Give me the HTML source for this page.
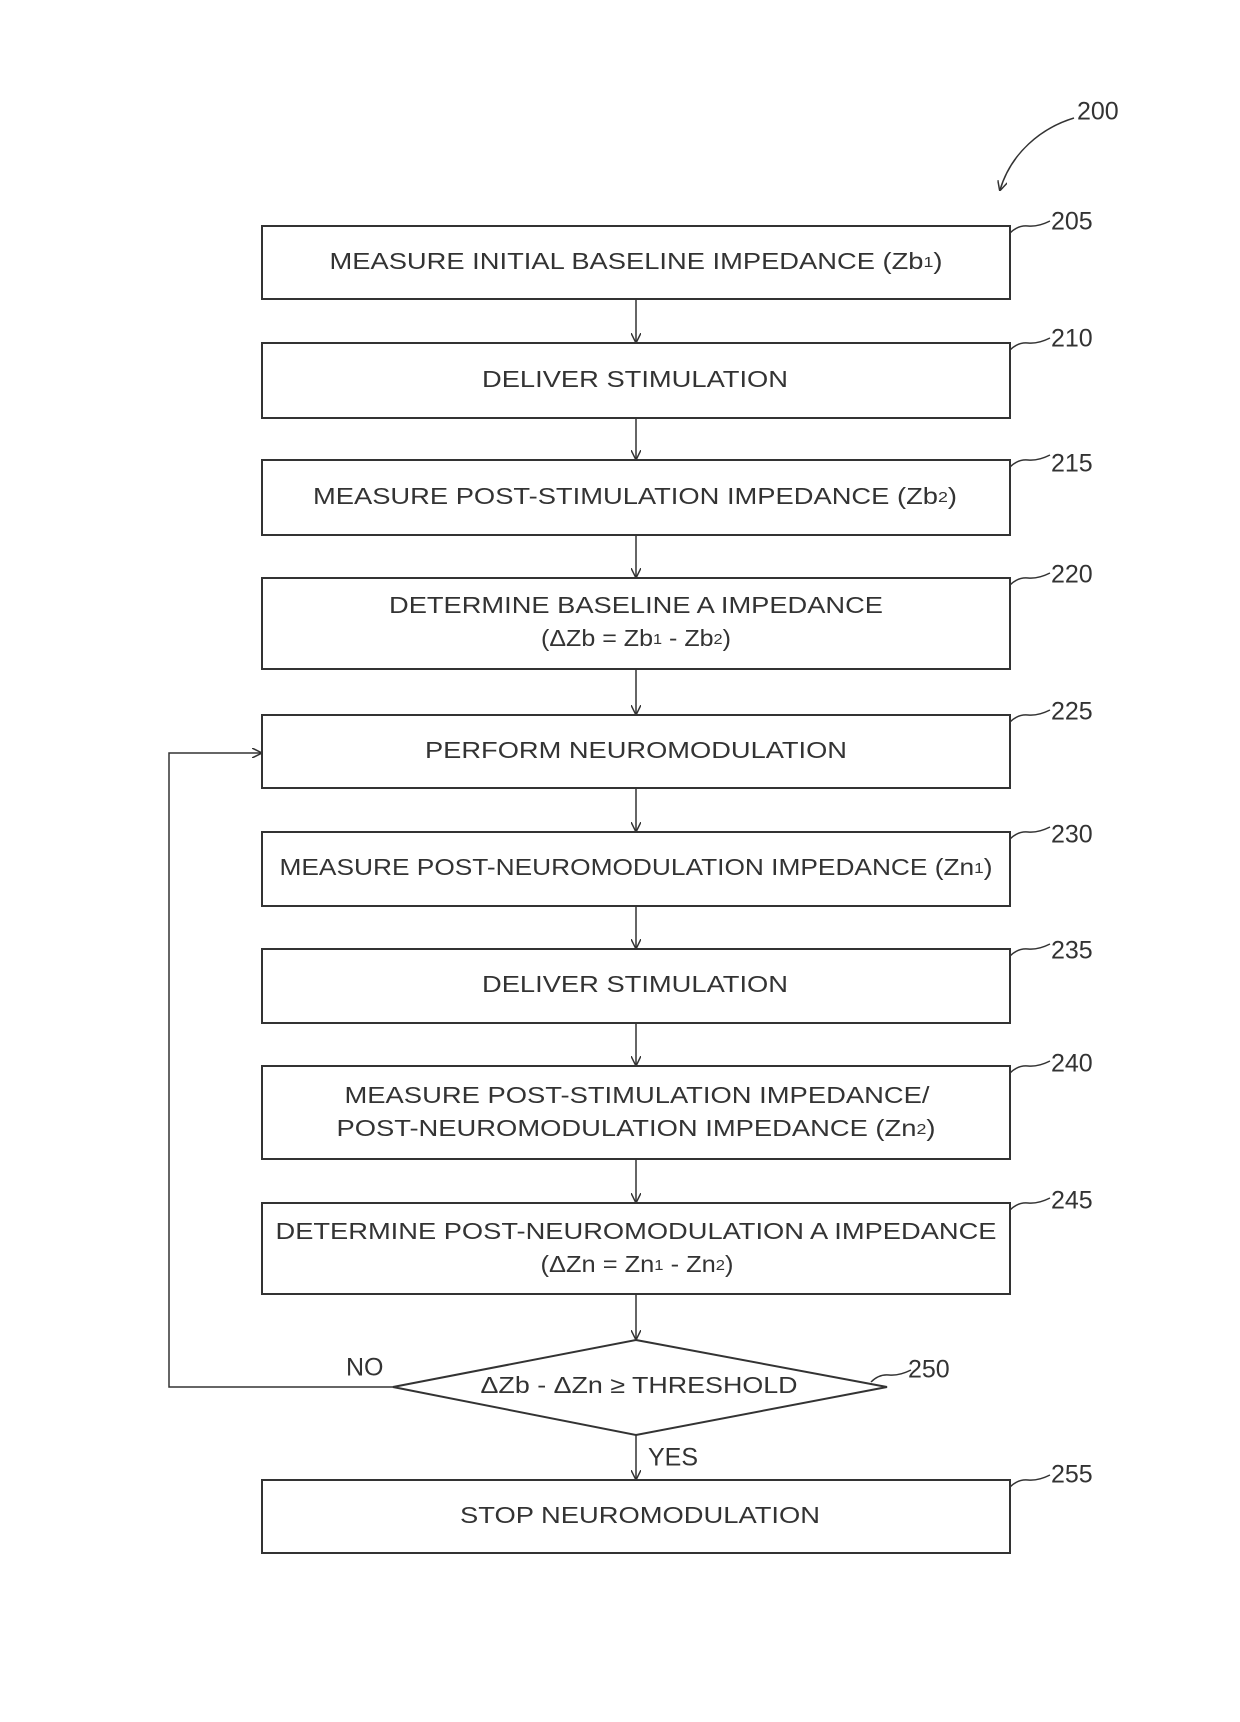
<!DOCTYPE html>
<html><head><meta charset="utf-8"><style>
html,body{margin:0;padding:0;background:#fff;}
svg{display:block;}
text{font-family:"Liberation Sans",sans-serif;fill:#333;}
.t{font-size:23px;text-anchor:middle;dominant-baseline:middle;}
.n{font-size:25px;dominant-baseline:middle;}
.s{font-size:15px;}
</style></head><body>
<svg width="1240" height="1722" viewBox="0 0 1240 1722" xmlns="http://www.w3.org/2000/svg">
<defs><marker id="a" markerWidth="10" markerHeight="10" refX="9" refY="5" orient="auto" markerUnits="userSpaceOnUse"><path d="M0,0 L10,5 L0,10" fill="none" stroke="#333" stroke-width="1.5"/></marker></defs>
<g transform="translate(1,3)">
<g fill="none" stroke="#333" stroke-width="2">
<rect x="261" y="223" width="748" height="73"/>
<rect x="261" y="340" width="748" height="75"/>
<rect x="261" y="457" width="748" height="75"/>
<rect x="261" y="575" width="748" height="91"/>
<rect x="261" y="712" width="748" height="73"/>
<rect x="261" y="829" width="748" height="74"/>
<rect x="261" y="946" width="748" height="74"/>
<rect x="261" y="1063" width="748" height="93"/>
<rect x="261" y="1200" width="748" height="91"/>
<polygon points="635,1337 886,1384 635,1432 392,1384"/>
<rect x="261" y="1477" width="748" height="73"/>
</g>
<g stroke="#333" stroke-width="1.5" fill="none" marker-end="url(#a)">
<line x1="635" y1="296" x2="635" y2="339"/>
<line x1="635" y1="415" x2="635" y2="456"/>
<line x1="635" y1="532" x2="635" y2="574"/>
<line x1="635" y1="666" x2="635" y2="711"/>
<line x1="635" y1="785" x2="635" y2="828"/>
<line x1="635" y1="903" x2="635" y2="945"/>
<line x1="635" y1="1020" x2="635" y2="1062"/>
<line x1="635" y1="1156" x2="635" y2="1199"/>
<line x1="635" y1="1291" x2="635" y2="1336"/>
<line x1="635" y1="1432" x2="635" y2="1476"/>
<polyline points="392,1384 168,1384 168,750 260,750"/>
<path d="M1073,115 C1040,125 1010,150 999,187"/>
</g>
<g stroke="#333" stroke-width="1.5" fill="none">
<path d="M1009,230 q8,-8 18,-7 t22,-5"/>
<path d="M1009,347 q8,-8 18,-7 t22,-5"/>
<path d="M1009,464 q8,-8 18,-7 t22,-5"/>
<path d="M1009,582 q8,-8 18,-7 t22,-5"/>
<path d="M1009,719 q8,-8 18,-7 t22,-5"/>
<path d="M1009,836 q8,-8 18,-7 t22,-5"/>
<path d="M1009,953 q8,-8 18,-7 t22,-5"/>
<path d="M1009,1070 q8,-8 18,-7 t22,-5"/>
<path d="M1009,1207 q8,-8 18,-7 t22,-5"/>
<path d="M1009,1484 q8,-8 18,-7 t22,-5"/>
<path d="M870,1379 q8,-8 18,-7 t22,-5"/>
</g>
<text class="t" x="635" y="260" textLength="613" lengthAdjust="spacingAndGlyphs">MEASURE INITIAL BASELINE IMPEDANCE (Zb<tspan class="s">1</tspan>)</text>
<text class="t" x="634" y="378" textLength="306" lengthAdjust="spacingAndGlyphs">DELIVER STIMULATION</text>
<text class="t" x="634" y="495" textLength="644" lengthAdjust="spacingAndGlyphs">MEASURE POST-STIMULATION IMPEDANCE (Zb<tspan class="s">2</tspan>)</text>
<text class="t" x="635" y="604" textLength="494" lengthAdjust="spacingAndGlyphs">DETERMINE BASELINE A IMPEDANCE</text>
<text class="t" x="635" y="637" textLength="190" lengthAdjust="spacingAndGlyphs">(ΔZb = Zb<tspan class="s">1</tspan> - Zb<tspan class="s">2</tspan>)</text>
<text class="t" x="635" y="749" textLength="422" lengthAdjust="spacingAndGlyphs">PERFORM NEUROMODULATION</text>
<text class="t" x="635" y="866" textLength="713" lengthAdjust="spacingAndGlyphs">MEASURE POST-NEUROMODULATION IMPEDANCE (Zn<tspan class="s">1</tspan>)</text>
<text class="t" x="634" y="983" textLength="306" lengthAdjust="spacingAndGlyphs">DELIVER STIMULATION</text>
<text class="t" x="636" y="1094" textLength="585" lengthAdjust="spacingAndGlyphs">MEASURE POST-STIMULATION IMPEDANCE/</text>
<text class="t" x="635" y="1127" textLength="599" lengthAdjust="spacingAndGlyphs">POST-NEUROMODULATION IMPEDANCE (Zn<tspan class="s">2</tspan>)</text>
<text class="t" x="635" y="1230" textLength="721" lengthAdjust="spacingAndGlyphs">DETERMINE POST-NEUROMODULATION A IMPEDANCE</text>
<text class="t" x="636" y="1263" textLength="193" lengthAdjust="spacingAndGlyphs">(ΔZn = Zn<tspan class="s">1</tspan> - Zn<tspan class="s">2</tspan>)</text>
<text class="t" x="638" y="1384" textLength="317" lengthAdjust="spacingAndGlyphs">ΔZb - ΔZn ≥ THRESHOLD</text>
<text class="t" x="639" y="1514" textLength="360" lengthAdjust="spacingAndGlyphs">STOP NEUROMODULATION</text>
<text class="n" x="345" y="1366">NO</text>
<text class="n" x="647" y="1456">YES</text>
<text class="n" x="1076" y="110">200</text>
<text class="n" x="1050" y="220">205</text>
<text class="n" x="1050" y="337">210</text>
<text class="n" x="1050" y="462">215</text>
<text class="n" x="1050" y="573">220</text>
<text class="n" x="1050" y="710">225</text>
<text class="n" x="1050" y="833">230</text>
<text class="n" x="1050" y="949">235</text>
<text class="n" x="1050" y="1062">240</text>
<text class="n" x="1050" y="1199">245</text>
<text class="n" x="907" y="1368">250</text>
<text class="n" x="1050" y="1473">255</text>
</g>
</svg>
</body></html>
